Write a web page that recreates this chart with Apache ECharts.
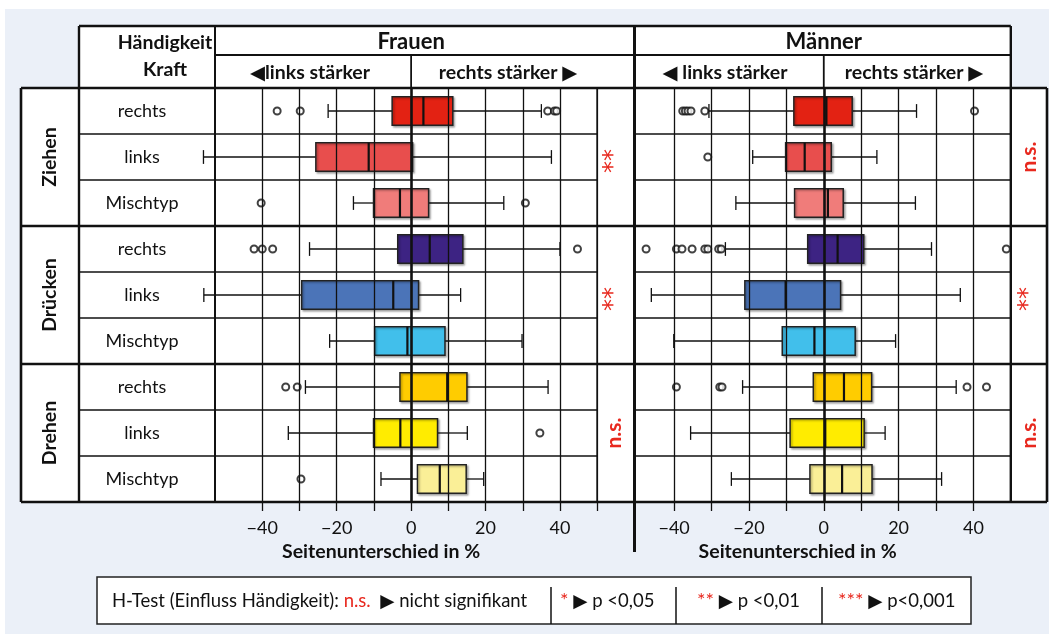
<!DOCTYPE html>
<html>
<head>
<meta charset="utf-8">
<script src="https://cdn.jsdelivr.net/npm/echarts@6/dist/echarts.min.js"></script>
<style>
  html, body { margin: 0; padding: 0; background: #fff; }
  #chart { width: 1049px; height: 634px; }
</style>
</head>
<body>
<div id="chart"></div>
<script>
// rows (top to bottom) and groups
const rowLabels = ['rechts', 'links', 'Mischtyp', 'rechts', 'links', 'Mischtyp', 'rechts', 'links', 'Mischtyp']
const groups = ['Ziehen', 'Drücken', 'Drehen']
const boxColors = ['#e32213', '#e84e4d', '#f07c7a', '#3d2383', '#4b74b8', '#41bfeb', '#ffcc00', '#ffec00', '#faef97']

// [row, low whisker, Q1, median, Q3, high whisker]
const frauenBox = [
  [0, -22.3, -5.1, 3.3, 11.2, 35.0],
  [1, -55.8, -25.6, -11.4, 0.4, 37.7],
  [2, -15.5, -10.1, -3.0, 4.7, 24.9],
  [3, -27.3, -3.6, 5.0, 13.9, 40.0],
  [4, -55.7, -29.4, -4.8, 2.0, 13.3],
  [5, -21.9, -9.8, -1.0, 9.1, 29.8],
  [6, -28.4, -3.0, 9.7, 15.0, 36.8],
  [7, -33.0, -10.1, -2.9, 7.1, 15.1],
  [8, -8.1, 1.7, 7.7, 14.8, 19.5]
]
// [value, row]
const frauenOut = [
  [-36.0, 0], [-29.8, 0], [36.7, 0], [38.5, 0], [39.1, 0],
  [-40.3, 2], [30.7, 2],
  [-42.2, 3], [-40.0, 3], [-37.2, 3], [44.7, 3],
  [-33.7, 6], [-30.6, 6], [34.6, 7], [-29.6, 8]
]
const maennerBox = [
  [0, -30.7, -8.0, 0.7, 7.6, 24.8],
  [1, -19.0, -10.2, -5.1, 2.0, 14.2],
  [2, -23.5, -7.8, 1.1, 5.2, 24.5],
  [3, -26.3, -4.3, 3.7, 10.7, 28.8],
  [4, -46.1, -21.1, -10.2, 4.5, 36.5],
  [5, -40.1, -11.1, -2.5, 8.4, 19.2],
  [6, -21.7, -2.8, 5.4, 12.8, 35.4],
  [7, -35.6, -9.0, 0.4, 10.8, 16.4],
  [8, -24.7, -3.7, 4.9, 12.9, 31.5]
]
const maennerOut = [
  [-37.7, 0], [-37.0, 0], [-36.3, 0], [-35.5, 0], [-31.8, 0], [40.3, 0],
  [-31.0, 1],
  [-47.5, 3], [-39.4, 3], [-37.9, 3], [-35.2, 3], [-31.8, 3], [-31.0, 3], [-28.1, 3], [-27.4, 3], [48.8, 3],
  [-39.4, 6], [-27.8, 6], [-27.2, 6], [38.3, 6], [43.5, 6]
]
const frauenSig = ['**', '**', 'n.s.']
const maennerSig = ['n.s.', '**', 'n.s.']

const frauenTicks = [-40, -30, -20, -10, 0, 10, 20, 30, 40, 50]
const maennerTicks = [-40, -30, -20, -10, 0, 10, 20, 30, 40]
const tickLabels = [-40, -20, 0, 20, 40]
const gridVals = [-40, -30, -20, -10, 0, 10, 20, 30, 40]

const FONT = "Lato, 'DejaVu Sans', sans-serif"
const RED = '#e8281e'
const INK = '#111'

// table layout
const grpX = 21, lblX = 79, fX0 = 215, fX1 = 597.2, mX0 = 634.5, mX1 = 1010.8, endX = 1047
const hdrTop = 26, hdrMid = 55, rowTop = 88, rowH = 46
const rowBot = rowTop + 9 * rowH

const chart = echarts.init(document.getElementById('chart'))

const boxRender = (params, api) => {
  const row = api.value(0)
  const lo = api.coord([api.value(1), row])
  const q1 = api.coord([api.value(2), row])
  const md = api.coord([api.value(3), row])
  const q3 = api.coord([api.value(4), row])
  const hi = api.coord([api.value(5), row])
  const band = api.size([0, 1])[1]
  const h = band * 0.62, cap = band * 0.3
  const y = lo[1]
  const ln = { stroke: INK, lineWidth: 1.3 }
  return {
    type: 'group',
    children: [
      { type: 'line', shape: { x1: lo[0], y1: y, x2: q1[0], y2: y }, style: ln },
      { type: 'line', shape: { x1: q3[0], y1: y, x2: hi[0], y2: y }, style: ln },
      { type: 'line', shape: { x1: lo[0], y1: y - cap / 2, x2: lo[0], y2: y + cap / 2 }, style: ln },
      { type: 'line', shape: { x1: hi[0], y1: y - cap / 2, x2: hi[0], y2: y + cap / 2 }, style: ln },
      {
        type: 'rect',
        shape: { x: q1[0], y: y - h / 2, width: q3[0] - q1[0], height: h },
        style: {
          fill: boxColors[row], stroke: '#222', lineWidth: 1.5,
          shadowBlur: 2, shadowOffsetX: 1.5, shadowOffsetY: 1.5, shadowColor: 'rgba(0,0,0,0.3)'
        }
      },
      { type: 'line', shape: { x1: md[0], y1: y - h / 2, x2: md[0], y2: y + h / 2 }, style: { stroke: INK, lineWidth: 2.2 } }
    ]
  }
}

const fmt = (v) => (v < 0 ? '\u2212' + Math.abs(v) : String(v))

const xAxisOpt = (gridIndex, min, ticks) => ({
  type: 'value', gridIndex, min, max: 50,
  splitLine: { show: false },
  axisLine: { show: false },
  axisTick: { show: true, length: 9, customValues: ticks, lineStyle: { color: INK, width: 1.3 } },
  axisLabel: { customValues: tickLabels, formatter: fmt, margin: 17, fontSize: 18, color: INK, fontFamily: FONT },
  name: 'Seitenunterschied in %', nameLocation: 'middle', nameGap: 39,
  nameTextStyle: { fontSize: 19.5, fontWeight: 'bold', color: INK, fontFamily: FONT, padding: [0, 50, 0, 0] }
})

const yAxisOpt = (gridIndex, showLabels) => ({
  type: 'category', gridIndex, data: rowLabels, inverse: true,
  axisLine: { show: false }, axisTick: { show: false }, splitLine: { show: false },
  axisLabel: { show: showLabels, interval: 0, margin: 73, align: 'center', fontSize: 18, color: INK, fontFamily: FONT }
})

const gridLines = {
  silent: true, symbol: ['none', 'none'], label: { show: false },
  lineStyle: { color: INK, width: 1.3, type: 'solid' },
  data: gridVals.map(v => ({ xAxis: v, lineStyle: { color: INK, width: v === 0 ? 2.6 : 1.3, type: 'solid' } }))
}

const outlierSeries = (idx, data) => ({
  type: 'scatter', xAxisIndex: idx, yAxisIndex: idx, data, z: 2, clip: false,
  symbol: 'emptyCircle', symbolSize: 7,
  itemStyle: { color: INK, borderWidth: 1.5 },
  markLine: gridLines
})

const boxSeries = (idx, data) => ({
  type: 'custom', xAxisIndex: idx, yAxisIndex: idx, data, z: 3,
  encode: { x: [1, 2, 3, 4, 5], y: 0 },
  renderItem: boxRender
})

chart.setOption({
  animation: false,
  backgroundColor: '#fff',
  textStyle: { fontFamily: FONT },
  grid: [
    { left: fX0, top: rowTop, width: fX1 - fX0, height: rowBot - rowTop },
    { left: mX0, top: rowTop, width: mX1 - mX0, height: rowBot - rowTop }
  ],
  xAxis: [xAxisOpt(0, -52.7, frauenTicks), xAxisOpt(1, -50.6, maennerTicks)],
  yAxis: [yAxisOpt(0, true), yAxisOpt(1, false)],
  series: [
    outlierSeries(0, frauenOut),
    boxSeries(0, frauenBox),
    outlierSeries(1, maennerOut),
    boxSeries(1, maennerBox)
  ]
})

// table frame, headers and legend
const zeroF = chart.convertToPixel({ xAxisIndex: 0 }, 0)
const zeroM = chart.convertToPixel({ xAxisIndex: 1 }, 0)

const g = []
const line = (x1, y1, x2, y2, w) => g.push({
  type: 'line', z: 1, silent: true,
  shape: { x1, y1, x2, y2 }, style: { stroke: INK, lineWidth: w }
})
const text = (x, y, str, opts) => g.push({
  type: 'text', z: 5, silent: true, x, y, rotation: opts.rotation || 0,
  style: Object.assign({
    text: str, fill: INK, fontFamily: FONT, fontSize: 18,
    align: 'center', verticalAlign: 'middle', textAlign: 'center', textVerticalAlign: 'middle'
  }, opts.style || {})
})

g.push({ type: 'rect', z: -2, silent: true, shape: { x: 5, y: 9, width: 1044, height: 625 }, style: { fill: '#ebf0f8' } })
g.push({ type: 'rect', z: -1, silent: true, shape: { x: lblX, y: hdrTop, width: mX1 - lblX, height: rowTop - hdrTop }, style: { fill: '#fff' } })
g.push({ type: 'rect', z: -1, silent: true, shape: { x: grpX, y: rowTop, width: endX - grpX, height: rowBot - rowTop }, style: { fill: '#fff' } })

// thin row lines
;[1, 2, 4, 5, 7, 8].forEach(r => {
  const y = rowTop + r * rowH
  line(lblX, y, fX1, y, 1.5)
  line(mX0, y, mX1, y, 1.5)
})
// group lines
;[0, 1, 2, 3].forEach(k => line(grpX, rowTop + k * 3 * rowH, endX, rowTop + k * 3 * rowH, 2.6))
// header
line(lblX, hdrTop, mX1, hdrTop, 2.6)
line(fX0, hdrMid, mX1, hdrMid, 1.8)
line(zeroF, hdrMid, zeroF, rowTop, 1.8)
line(zeroM, hdrMid, zeroM, rowTop, 1.8)
// verticals
line(grpX, rowTop, grpX, rowBot, 2.6)
line(lblX, hdrTop, lblX, rowBot, 2.4)
line(fX0, hdrTop, fX0, rowBot, 2)
line(fX1, rowTop, fX1, rowBot, 1.8)
line(mX0, hdrTop, mX0, 552, 3)
line(mX1, hdrTop, mX1, rowBot, 2.4)
line(endX, rowTop, endX, rowBot, 2.6)

// header texts
const bold = { fontWeight: 'bold', fontSize: 19.5 }
text(165, 43, 'Händigkeit', { style: bold })
text(165, 70, 'Kraft', { style: bold })
text(zeroF, 42, 'Frauen', { style: { fontWeight: 'bold', fontSize: 22 } })
text(zeroM, 42, 'Männer', { style: { fontWeight: 'bold', fontSize: 22 } })
text(310, 73, '\u25C0links stärker', { style: bold })
text(508, 73, 'rechts stärker \u25B6', { style: bold })
text(725, 73, '\u25C0 links stärker', { style: bold })
text(914, 73, 'rechts stärker \u25B6', { style: bold })

// group and significance labels
const sigStyle = s => s === '**'
  ? { fill: RED, fontSize: 24, fontFamily: "'DejaVu Sans', sans-serif" }
  : { fill: RED, fontSize: 21, fontWeight: 'bold' }
groups.forEach((name, k) => {
  const cy = rowTop + (k * 3 + 1.5) * rowH
  text(50, cy, name, { rotation: Math.PI / 2, style: bold })
  text(614, cy + (frauenSig[k] === '**' ? 4 : 0), frauenSig[k], { rotation: Math.PI / 2, style: sigStyle(frauenSig[k]) })
  text(1029, cy + (maennerSig[k] === '**' ? 4 : 0), maennerSig[k], { rotation: Math.PI / 2, style: sigStyle(maennerSig[k]) })
})

// legend box
g.push({ type: 'rect', z: 1, silent: true, shape: { x: 97, y: 577, width: 874, height: 47 }, style: { fill: '#fff', stroke: '#222', lineWidth: 1.5 } })
;[551, 676, 822].forEach(x => line(x, 587, x, 624, 1.5))
const rich = {
  a: { fill: INK, fontSize: 18.5, fontFamily: FONT },
  r: { fill: RED, fontSize: 18.5, fontFamily: FONT },
  s: { fill: RED, fontSize: 20, fontFamily: FONT, verticalAlign: 'top' }
}
const legendItems = [
  [112, '{a|H-Test (Einfluss Händigkeit): }{r|n.s.}{a|  \u25B6 nicht signifikant}'],
  [560, '{s|*}{a| \u25B6 p <0,05}'],
  [697, '{s|**}{a| \u25B6 p <0,01}'],
  [838, '{s|***}{a| \u25B6 p<0,001}']
]
legendItems.forEach(([x, str]) => g.push({
  type: 'text', z: 5, silent: true, x, y: 601,
  style: { text: str, rich, align: 'left', verticalAlign: 'middle', textAlign: 'left', textVerticalAlign: 'middle', fontFamily: FONT, fontSize: 18.5 }
}))

chart.setOption({ graphic: { elements: g } })
</script>
</body>
</html>
